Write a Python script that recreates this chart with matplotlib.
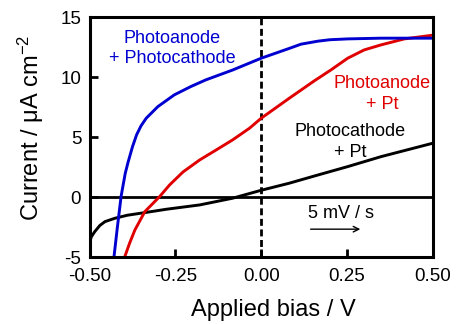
import matplotlib
matplotlib.use("Agg")
import matplotlib.pyplot as plt

plt.rcParams['font.family'] = ['Liberation Sans', 'DejaVu Sans']
plt.rcParams['mathtext.default'] = 'regular'

# Photoanode + Photocathode (blue)
bias_blue = [-0.429, -0.419, -0.408, -0.396, -0.388, -0.375, -0.363, -0.35,
             -0.335, -0.301, -0.253, -0.205, -0.161, -0.083, 0.0, 0.082,
             0.116, 0.165, 0.2, 0.252, 0.349, 0.5]
cur_blue = [-5.0, -2.5, 0.1, 2.0, 2.9, 4.2, 5.2, 5.95,
            6.58, 7.55, 8.53, 9.22, 9.78, 10.6, 11.58, 12.4,
            12.75, 13.0, 13.12, 13.19, 13.25, 13.25]

# Photoanode + Pt (red)
bias_red = [-0.398, -0.383, -0.368, -0.339, -0.296, -0.267, -0.228, -0.179,
            -0.131, -0.083, -0.034, 0.0, 0.082, 0.155, 0.203, 0.252, 0.3,
            0.349, 0.417, 0.5]
cur_red = [-5.0, -3.8, -2.73, -1.2, 0.05, 1.02, 2.1, 3.11,
           3.94, 4.78, 5.75, 6.58, 8.25, 9.7, 10.6, 11.58, 12.27,
           12.69, 13.19, 13.5]

# Photocathode + Pt (black)
bias_black = [-0.5, -0.495, -0.485, -0.47, -0.455, -0.426, -0.39, -0.339,
              -0.276, -0.179, -0.083, 0.0, 0.082, 0.165, 0.252, 0.349, 0.5]
cur_black = [-3.8, -3.3, -2.87, -2.35, -2.03, -1.75, -1.5, -1.28,
             -1.0, -0.64, -0.08, 0.58, 1.17, 1.85, 2.55, 3.38, 4.5]

fig = plt.figure(figsize=(4.57, 3.24), dpi=100)
ax = fig.add_axes([0.196, 0.206, 0.751, 0.741])

ax.axhline(0, color='black', lw=2)
ax.axvline(0, color='black', lw=2, linestyle=(0, (2.5, 1.3)))

ax.plot(bias_black, cur_black, color='black', lw=2.1)
ax.plot(bias_red, cur_red, color='#e00000', lw=2.1)
ax.plot(bias_blue, cur_blue, color='#0000d0', lw=2.1)

ax.set_xlim(-0.5, 0.5)
ax.set_ylim(-5, 15)
ax.set_xticks([-0.5, -0.25, 0, 0.25, 0.5])
ax.set_xticklabels(['-0.50', '-0.25', '0.00', '0.25', '0.50'])
ax.set_yticks([-5, 0, 5, 10, 15])
ax.set_yticklabels(['-5', '0', '5', '10', '15'])

for s in ['left', 'right', 'top', 'bottom']:
    ax.spines[s].set_linewidth(2.2)
ax.tick_params(direction='in', length=6, width=2, labelsize=13.5)
ax.tick_params(axis='x', pad=8)
ax.tick_params(axis='y', pad=6)

ax.set_xlabel('Applied bias / V', fontsize=17)
ax.xaxis.set_label_coords(0.537, -0.172)
ax.set_ylabel('Current / \u03bcA cm$^{-2}$', fontsize=17)
ax.yaxis.set_label_coords(-0.126, 0.54)

# Annotations
ax.text(-0.26, 12.4, 'Photoanode\n+ Photocathode', color='#0000d0',
        fontsize=13, ha='center', va='center', linespacing=1.25)
ax.text(0.352, 8.6, 'Photoanode\n+ Pt', color='#e00000',
        fontsize=13, ha='center', va='center', linespacing=1.25)
ax.text(0.26, 4.6, 'Photocathode\n+ Pt', color='black',
        fontsize=13, ha='center', va='center', linespacing=1.35)
ax.text(0.233, -1.35, '5 mV / s', color='black', fontsize=13,
        ha='center', va='center')
ax.annotate('', xy=(0.297, -2.66), xytext=(0.136, -2.66),
            arrowprops=dict(arrowstyle='->', color='black', lw=1))

fig.savefig('out.png', dpi=100)
